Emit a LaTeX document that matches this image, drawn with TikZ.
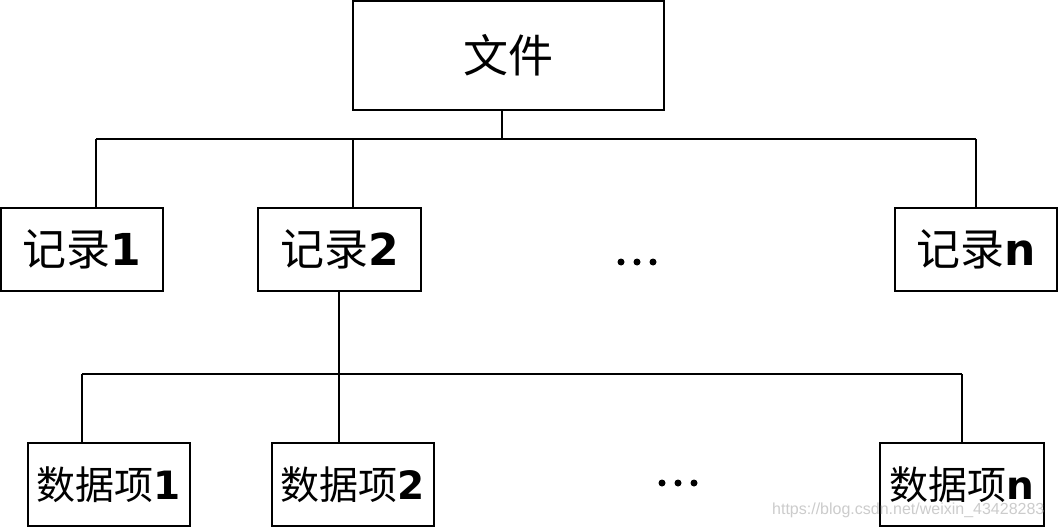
\documentclass[tikz,border=0pt]{standalone}
\usepackage{fontspec}
\newfontfamily\cjk{Noto Sans CJK SC}
\newfontfamily\dvb{DejaVu Sans}[BoldFont={DejaVu Sans Bold}]
\newfontfamily\lib{Liberation Sans}
\newcommand{\nb}[1]{{\dvb\bfseries #1}}
\begin{document}
\begin{tikzpicture}[x=1pt,y=-1pt,
  box/.style={draw=black,line width=2pt,rectangle,inner sep=0pt,fill=white},
  conn/.style={draw=black,line width=2pt},
  dot/.style={fill=black,circle,inner sep=0pt,minimum size=7pt}]
\useasboundingbox (0,0) rectangle (1058,527);
\fill[white] (0,0) rectangle (1058,527);
% boxes
\node[box,minimum width=311pt,minimum height=109pt,font=\cjk\fontsize{45}{50}\selectfont] (top) at (508.5,55.5) {文件};
\node[box,minimum width=162pt,minimum height=83pt,font=\cjk\fontsize{44}{48}\selectfont] (r1) at (82,249.5) {记录\nb{1}};
\node[box,minimum width=163pt,minimum height=83pt,font=\cjk\fontsize{44}{48}\selectfont] (r2) at (339.5,249.5) {记录\nb{2}};
\node[box,minimum width=162pt,minimum height=83pt,font=\cjk\fontsize{44}{48}\selectfont] (rn) at (976,249.5) {记录\nb{n}};
\node[box,minimum width=162pt,minimum height=83pt,font=\cjk\fontsize{39}{42}\selectfont] (d1) at (109,484.5) {数据项\nb{1}};
\node[box,minimum width=162pt,minimum height=83pt,font=\cjk\fontsize{39}{42}\selectfont] (d2) at (353,484.5) {数据项\nb{2}};
\node[box,minimum width=164pt,minimum height=83pt,font=\cjk\fontsize{39}{42}\selectfont] (dn) at (962,484.5) {数据项\nb{n}};
% dots
\node[dot] (e1) at (621,262) {};
\node[dot] (e2) at (637,262) {};
\node[dot] (e3) at (653,262) {};
\node[dot] (f1) at (662,483) {};
\node[dot] (f2) at (678,483) {};
\node[dot] (f3) at (694,483) {};
% level 1 connectors
\coordinate (b0) at (502,139);
\coordinate (bL) at (96,139);
\coordinate (b2) at (353,139);
\coordinate (bR) at (976,139);
\draw[conn] (top.south -| b0) -- (b0);
\draw[conn] (bL) -- (bR);
\draw[conn] (bL) -- (r1.north -| bL);
\draw[conn] (b2) -- (r2.north -| b2);
\draw[conn] (bR) -- (rn.north -| bR);
% level 2 connectors
\coordinate (c0) at (339,374);
\coordinate (cL) at (82,374);
\coordinate (cR) at (962,374);
\draw[conn] (r2.south -| c0) -- (d2.north -| c0);
\draw[conn] (cL) -- (cR);
\draw[conn] (cL) -- (d1.north -| cL);
\draw[conn] (cR) -- (dn.north -| cR);
% watermark
\node[anchor=west,inner sep=0pt,text=black!20,font=\lib\fontsize{16}{18}\selectfont] (wm) at (772,510) {https://blog.csdn.net/weixin\_43428283};
\end{tikzpicture}
\end{document}
